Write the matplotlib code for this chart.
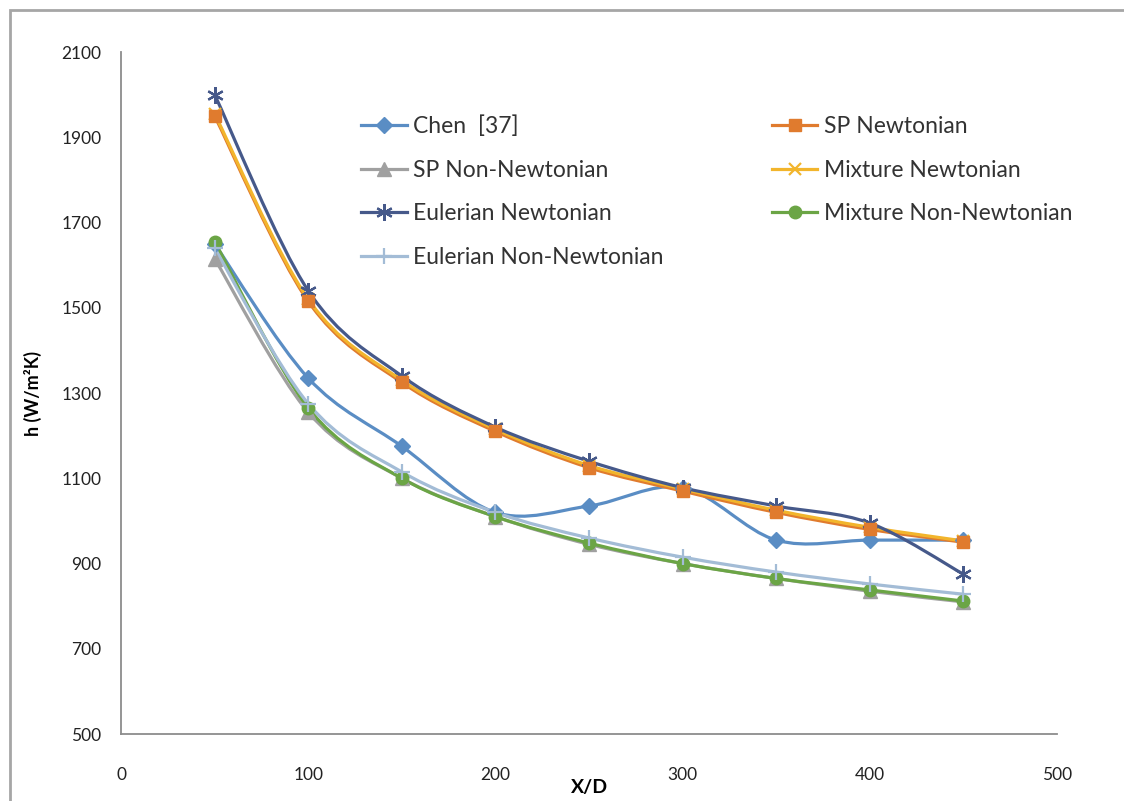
import numpy as np
import matplotlib
matplotlib.use('Agg')
import matplotlib.pyplot as plt
from matplotlib.path import Path
from matplotlib.patches import PathPatch, Rectangle
from matplotlib.lines import Line2D

plt.rcParams['font.family'] = ['Lato', 'DejaVu Sans']

# X/D stations
x_d = [50, 100, 150, 200, 250, 300, 350, 400, 450]

# heat transfer coefficient h (W/m2K)
chen = [1650, 1335, 1175, 1020, 1035, 1078, 955, 955, 955]
sp_newt = [1950, 1515, 1325, 1210, 1125, 1070, 1020, 980, 950]
sp_nonnewt = [1615, 1255, 1100, 1010, 945, 900, 865, 835, 810]
mix_newt = [1955, 1520, 1330, 1215, 1130, 1075, 1025, 985, 953]
eul_newt = [2000, 1540, 1340, 1220, 1140, 1078, 1035, 995, 875]
mix_nonnewt = [1655, 1265, 1100, 1010, 948, 900, 865, 838, 812]
eul_nonnewt = [1640, 1275, 1115, 1020, 960, 915, 880, 852, 828]

series = [
    ('Chen  [37]', chen, '#5A8DC4', 'D', 8, 3),
    ('SP Newtonian', sp_newt, '#E07B2E', 's', 9, 6),
    ('SP Non-Newtonian', sp_nonnewt, '#A0A0A0', '^', 10, 3),
    ('Mixture Newtonian', mix_newt, '#F2B52C', 'x', 9, 3),
    ('Eulerian Newtonian', eul_newt, '#46598A', (6, 2, 0), 12, 4),
    ('Mixture Non-Newtonian', mix_nonnewt, '#6BA545', 'o', 9, 4),
    ('Eulerian Non-Newtonian', eul_nonnewt, '#A3BCD6', '+', 12, 4),
]


def smooth_path(xs, ys):
    # Catmull-Rom style cubic bezier through every point
    p = np.column_stack([xs, ys]).astype(float)
    pad = np.vstack([p[0], p, p[-1]])
    verts = [p[0]]
    codes = [Path.MOVETO]
    for i in range(len(p) - 1):
        p0, p1, p2, p3 = pad[i], pad[i + 1], pad[i + 2], pad[i + 3]
        verts += [p1 + (p2 - p0) / 6, p2 - (p3 - p1) / 6, p2]
        codes += [Path.CURVE4] * 3
    return Path(verts, codes)


fig = plt.figure(figsize=(11.24, 8.01), dpi=100)
ax = fig.add_axes([0.1077, 0.0836, 0.8327, 0.8514])

handles = {}
for name, vals, color, mk, ms, zm in series:
    ax.add_patch(PathPatch(smooth_path(x_d, vals), fill=False,
                           edgecolor=color, lw=2.3, capstyle='round'))
    mew = 1.6 if mk in ('x', '+', (6, 2, 0)) else 1
    ax.plot(x_d, vals, linestyle='none', marker=mk, ms=ms, color=color,
            mec=color, mew=mew, zorder=zm)
    handles[name] = Line2D([], [], color=color, lw=2.3, marker=mk,
                           ms=ms, mew=mew)

ax.set_xlim(0, 500)
ax.set_ylim(500, 2100)
ax.set_xticks(range(0, 501, 100))
ax.set_yticks(range(500, 2101, 200))
ax.tick_params(length=0, labelsize=12.5, colors='#222222')
ax.tick_params(axis='x', pad=24)
ax.tick_params(axis='y', pad=14)
for s in ['top', 'right']:
    ax.spines[s].set_visible(False)
for s in ['left', 'bottom']:
    ax.spines[s].set_color('#8C8C8C')
    ax.spines[s].set_linewidth(1.3)

ax.set_xlabel('X/D', fontsize=14, fontweight='bold', labelpad=-3)
ax.set_ylabel('h (W/m²K)', fontsize=13, fontweight='bold', labelpad=14)

order = ['Chen  [37]', 'SP Non-Newtonian', 'Eulerian Newtonian',
         'Eulerian Non-Newtonian', 'SP Newtonian', 'Mixture Newtonian',
         'Mixture Non-Newtonian']
ax.legend([handles[n] for n in order], order, ncol=2, frameon=False,
          fontsize=16.5, loc='upper left', bbox_to_anchor=(0.234, 0.937),
          handlelength=2.0, handletextpad=0.3, columnspacing=4.7,
          labelspacing=0.98, labelcolor='#333333')

# chart area border
fig.patches.append(Rectangle((10 / 1124, -0.01), 1.02, 1 - 10 / 801 + 0.01,
                             transform=fig.transFigure, fill=False,
                             edgecolor='#A6A6A6', lw=2))

fig.savefig('out.png', dpi=100)
